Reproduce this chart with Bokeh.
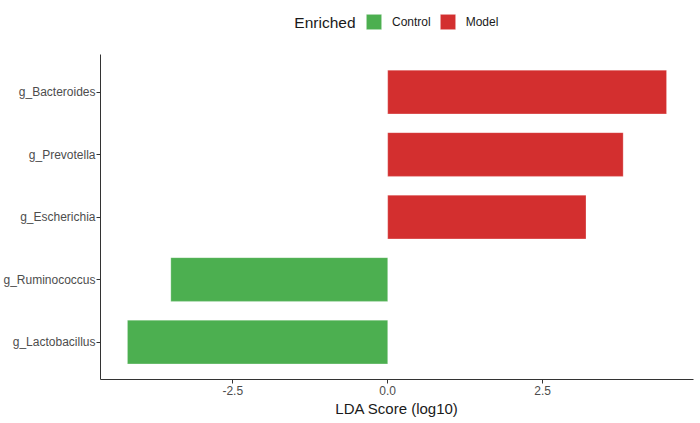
from bokeh.plotting import figure
from bokeh.models import (ColumnDataSource, Range1d, FixedTicker,
                          PrintfTickFormatter, Legend, LegendItem, Label)
from bokeh.embed import file_html
from bokeh.resources import INLINE

# LEfSe style LDA scores, listed top to bottom
genera = ["g_Bacteroides", "g_Prevotella", "g_Escherichia", "g_Ruminococcus", "g_Lactobacillus"]
lda_scores = [4.5, 3.8, 3.2, -3.5, -4.2]
enriched = ["Model", "Model", "Model", "Control", "Control"]
group_colors = {"Control": "#4CAF50", "Model": "#D32F2F"}
x_ticks = [-2.5, 0.0, 2.5]

FONT = "Liberation Sans"
W, H = 700, 423
BORDER_L, BORDER_R, BORDER_B = 98, 7, 44
FRAME_H = H - BORDER_B          # frame runs up to the top, legend lives in it
AXIS_TOP = 54                   # where the y axis line ends, from the figure top
n = len(genera)
ypos = {g: n - i for i, g in enumerate(genera)}   # top row gets the largest value

span = max(lda_scores) - min(lda_scores)
y_lo, y_hi = 0.4, n + 0.6
px_per_row = (FRAME_H - AXIS_TOP) / (y_hi - y_lo)
p = figure(width=W, height=H,
           x_range=Range1d(min(lda_scores) - 0.05 * span, max(lda_scores) + 0.05 * span),
           y_range=Range1d(y_lo, y_lo + FRAME_H / px_per_row),
           output_backend="svg", toolbar_location=None,
           min_border_left=BORDER_L, min_border_right=BORDER_R,
           min_border_top=0, min_border_bottom=BORDER_B)

p.outline_line_color = None
p.xgrid.visible = False
p.ygrid.visible = False

renderers = {}
for g in ["Control", "Model"]:
    idx = [i for i, e in enumerate(enriched) if e == g]
    sub = ColumnDataSource(data=dict(
        y=[ypos[genera[i]] for i in idx],
        left=[min(0, lda_scores[i]) for i in idx],
        right=[max(0, lda_scores[i]) for i in idx],
    ))
    renderers[g] = p.hbar(y="y", left="left", right="right", height=0.7, source=sub,
                          fill_color=group_colors[g], line_color="white", line_alpha=0.5,
                          line_width=0.5)

# axes
for ax in (p.xaxis[0], p.yaxis[0]):
    ax.axis_line_color = "#333333"
    ax.axis_line_width = 1
    ax.major_tick_line_color = "#333333"
    ax.major_tick_in = 0
    ax.major_tick_out = 4
    ax.minor_tick_line_color = None
    ax.major_label_text_font = FONT
    ax.major_label_text_font_size = "12px"
    ax.major_label_text_color = "#4D4D4D"
    ax.major_label_standoff = 2

p.yaxis.ticker = FixedTicker(ticks=list(ypos.values()))
p.yaxis.major_label_overrides = {v: g for g, v in ypos.items()}
p.yaxis.bounds = (y_lo, y_hi)
p.yaxis.major_label_standoff = 1

p.xaxis.ticker = FixedTicker(ticks=x_ticks)
p.xaxis.formatter = PrintfTickFormatter(format="%.1f")
p.xaxis.axis_label = "LDA Score (log10)"
p.xaxis.axis_label_text_font = FONT
p.xaxis.axis_label_text_font_size = "15px"
p.xaxis.axis_label_text_font_style = "normal"
p.xaxis.axis_label_text_color = "#1A1A1A"
p.xaxis.axis_label_standoff = 2

# legend at the top, screen units from frame bottom-left
key_bottom = FRAME_H - 31
legend = Legend(items=[LegendItem(label=g, renderers=[renderers[g]]) for g in ["Control", "Model"]],
                orientation="horizontal", location=(362 - BORDER_L, key_bottom))
legend.label_text_font = FONT
legend.label_text_font_size = "12px"
legend.label_text_color = "#1A1A1A"
legend.glyph_width = 19
legend.glyph_height = 19
legend.label_standoff = 9
legend.spacing = 7
legend.padding = 0
legend.margin = 0
legend.border_line_color = None
legend.background_fill_color = None
p.add_layout(legend)

p.add_layout(Label(x=353 - BORDER_L, y=key_bottom + 9.5, x_units="screen", y_units="screen",
                   text="Enriched", text_align="right", text_baseline="middle",
                   text_font=FONT, text_font_size="15.5px", text_color="#1A1A1A"))

open("out.html", "w").write(file_html(p, INLINE))
